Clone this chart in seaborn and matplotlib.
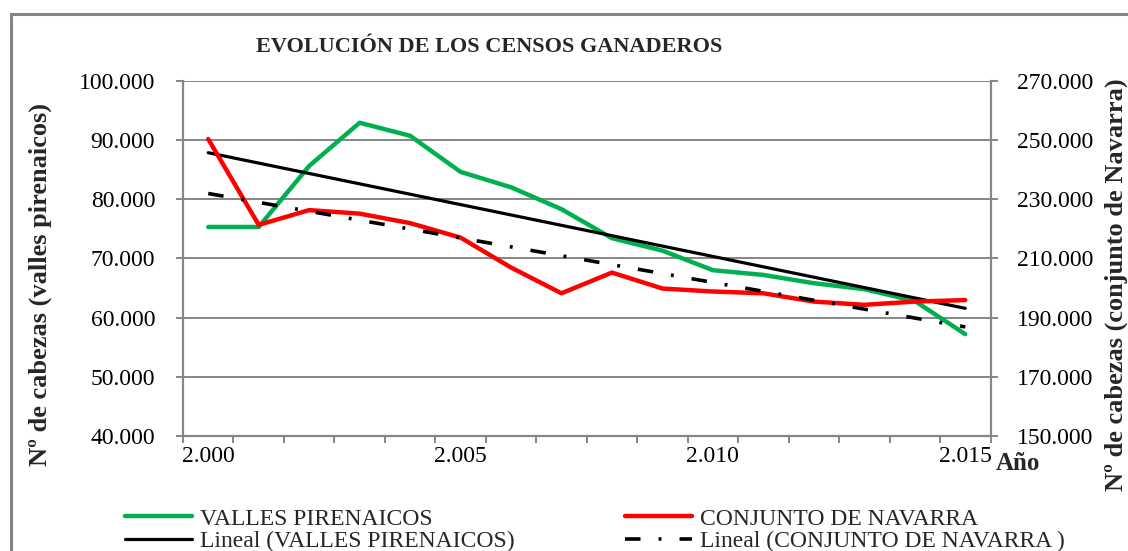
import numpy as np
import pandas as pd
import matplotlib
matplotlib.use("Agg")
import matplotlib.pyplot as plt
from matplotlib.patches import Rectangle
from matplotlib.ticker import FixedLocator, FuncFormatter
import seaborn as sns

# --- data ---
years = list(range(2000, 2016))
valles = [75300, 75300, 85600, 92900, 90700, 84600, 82000, 78300,
          73400, 71300, 68000, 67200, 65800, 64800, 62800, 57200]
navarra = [250300, 221300, 226300, 225100, 221900, 217000, 206900, 198200,
           205200, 199800, 198800, 198200, 195400, 194300, 195400, 195900]
year_labels = [2000, 2005, 2010, 2015]

GREEN = "#00B050"
RED = "#FF0000"
GRID = "#868686"

sns.set_theme(style="white")
plt.rcParams["font.family"] = ["Liberation Serif", "DejaVu Serif"]

df = pd.DataFrame({"year": years, "valles": valles, "navarra": navarra})
# Excel style linear trend lines
df["trend_valles"] = np.polyval(np.polyfit(df["year"], df["valles"], 1), df["year"])
df["trend_navarra"] = np.polyval(np.polyfit(df["year"], df["navarra"], 1), df["year"])

W, H = 1128, 551
fig = plt.figure(figsize=(W / 100, H / 100), dpi=100)
ax = fig.add_axes([183 / W, 1 - 436 / H, (990.5 - 183) / W, (436 - 80.7) / H])
ax2 = ax.twinx()

sns.lineplot(data=df, x="year", y="valles", ax=ax, color=GREEN, lw=3.2,
             label="VALLES PIRENAICOS", legend=False, zorder=3)
sns.lineplot(data=df, x="year", y="trend_valles", ax=ax, color="black", lw=2.3,
             label="Lineal (VALLES PIRENAICOS)", legend=False, zorder=4)
sns.lineplot(data=df, x="year", y="navarra", ax=ax2, color=RED, lw=3.2,
             label="CONJUNTO DE NAVARRA", legend=False, zorder=3)
sns.lineplot(data=df, x="year", y="trend_navarra", ax=ax2, color="black", lw=2.6,
             linestyle=(0, (4.3, 5, 0.8, 5)),
             label="Lineal (CONJUNTO DE NAVARRA )", legend=False, zorder=4)

fmt = FuncFormatter(lambda v, p: f"{v:,.0f}".replace(",", "."))

ax.set_xlim(1999.5, 2015.5)
ax.set_ylim(40000, 100000)
ax.set_yticks(np.arange(40000, 100001, 10000))
ax.yaxis.set_major_formatter(fmt)
ax2.set_ylim(150000, 270000)
ax2.set_yticks(np.arange(150000, 270001, 20000))
ax2.yaxis.set_major_formatter(fmt)

ax.set_xticks(year_labels)
ax.xaxis.set_major_formatter(fmt)
ax.xaxis.set_minor_locator(FixedLocator(np.arange(1999.5, 2016, 1)))

ax.grid(axis="y", color=GRID, lw=1.4)
ax.set_axisbelow(True)
ax.set_xlabel("")
ax.set_ylabel("")
ax2.set_ylabel("")

for a in (ax, ax2):
    for s in a.spines.values():
        s.set_visible(False)
ax.spines["left"].set_visible(True)
ax.spines["bottom"].set_visible(True)
ax2.spines["right"].set_visible(True)
for s in (ax.spines["left"], ax.spines["bottom"], ax2.spines["right"]):
    s.set_color(GRID)
    s.set_linewidth(1.6)

ax.tick_params(axis="y", which="major", left=True, length=5, width=1.4, color=GRID,
               labelsize=17, pad=15, labelcolor="black")
ax2.tick_params(axis="y", which="major", right=True, length=5, width=1.4, color=GRID,
                labelsize=17, pad=14, labelcolor="black")
ax.tick_params(axis="x", which="major", bottom=True, length=0, labelsize=17, pad=7,
               labelcolor="black")
ax.tick_params(axis="x", which="minor", bottom=True, length=5, width=1.4, color=GRID)

# titles and axis labels
fig.text(489 / W, 1 - 47 / H, "EVOLUCIÓN DE LOS CENSOS GANADEROS", ha="center",
         va="center", fontsize=16, fontweight="bold")
fig.text(40 / W, 1 - 284 / H, "Nº de cabezas (valles pirenaicos)", rotation=90,
         ha="center", va="center", fontsize=19, fontweight="bold")
fig.text(1116 / W, 1 - 285 / H, "Nº de cabezas (conjunto de Navarra)", rotation=90,
         ha="center", va="center", fontsize=19, fontweight="bold")
fig.text(996 / W, 1 - 463 / H, "Año", ha="left", va="center", fontsize=18,
         fontweight="bold")

# legend below the plot
h1, l1 = ax.get_legend_handles_labels()
h2, l2 = ax2.get_legend_handles_labels()
fig.legend(h1 + h2, l1 + l2, ncol=2, loc="upper left",
           bbox_to_anchor=(125 / W, 1 - 508 / H), frameon=False, fontsize=17,
           handlelength=2.85, handletextpad=0.34, columnspacing=4.65,
           labelspacing=0.05, borderpad=0, borderaxespad=0)

# outer chart frame (cut off at the right and bottom edges)
fig.add_artist(Rectangle((10.5 / W, -0.1), 1.2, 1.1 - 13.5 / H,
                         transform=fig.transFigure, fill=False,
                         edgecolor="#858585", lw=2.2))

fig.savefig("out.png", dpi=100)
